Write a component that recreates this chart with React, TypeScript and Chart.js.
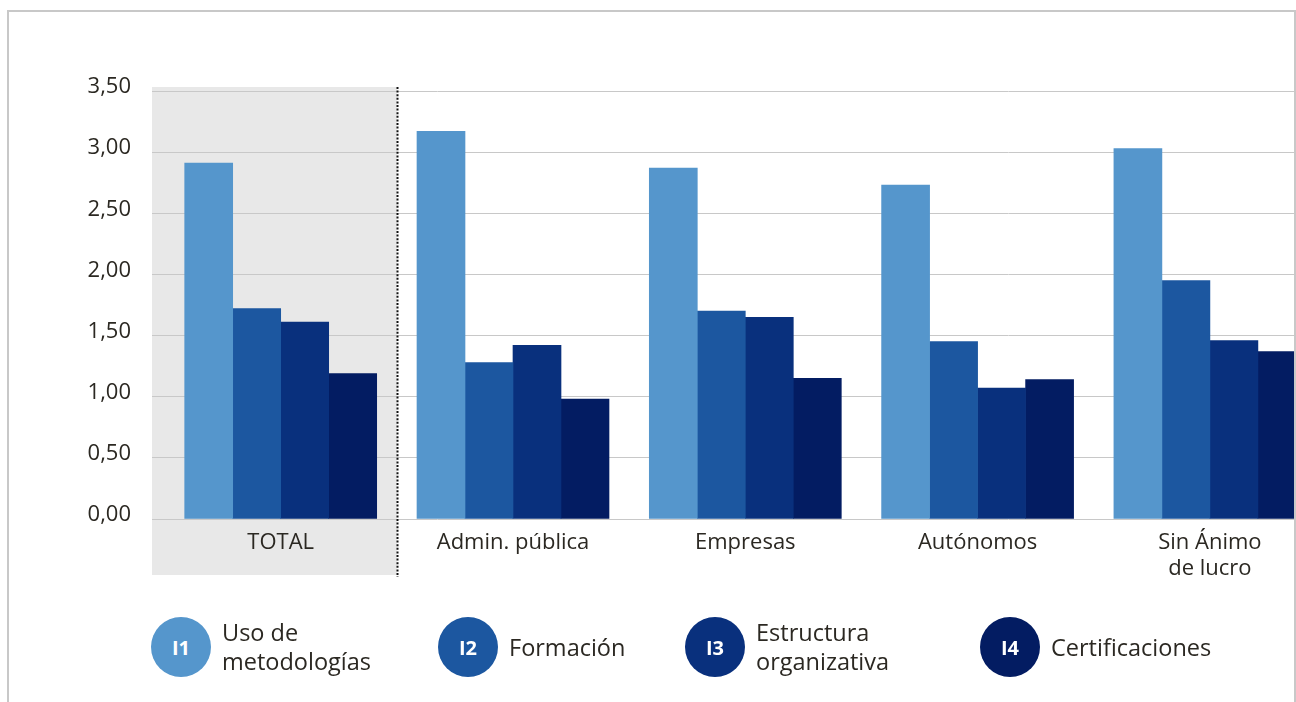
import React, { useEffect, useRef } from "react";
import { Chart, registerables } from "chart.js";

Chart.register(...registerables);

const categories: (string | string[])[] = [
  "TOTAL",
  "Admin. pública",
  "Empresas",
  "Autónomos",
  ["Sin Ánimo", "de lucro"],
];
const seriesCodes = ["I1", "I2", "I3", "I4"];
const seriesNames: string[][] = [
  ["Uso de", "metodologías"],
  ["Formación"],
  ["Estructura", "organizativa"],
  ["Certificaciones"],
];
const seriesColors = ["#5596cc", "#1c57a0", "#09307d", "#031c62"];
const usoMetodologias = [2.91, 3.17, 2.87, 2.73, 3.03];
const formacion = [1.72, 1.28, 1.70, 1.45, 1.95];
const estructura = [1.61, 1.42, 1.65, 1.07, 1.46];
const certificaciones = [1.19, 0.98, 1.15, 1.14, 1.37];
const seriesValues = [usoMetodologias, formacion, estructura, certificaciones];
const yTicks = [0, 0.5, 1, 1.5, 2, 2.5, 3, 3.5];

const FONT = "'Open Sans', 'DejaVu Sans', sans-serif";
const TEXT = "#2b2822";

const totalBackground = {
  id: "totalBackground",
  beforeDraw(chart: any) {
    const { ctx, chartArea, scales } = chart;
    const xSep = scales.x.getPixelForValue(0.5);
    ctx.save();
    ctx.fillStyle = "#e8e8e8";
    ctx.fillRect(chartArea.left, chartArea.top - 4, xSep - chartArea.left, 575 - (chartArea.top - 4));
    ctx.restore();
  },
  afterDraw(chart: any) {
    const { ctx, chartArea, scales } = chart;
    const xSep = Math.round(scales.x.getPixelForValue(0.5)) + 0.5;
    ctx.save();
    ctx.strokeStyle = "#111";
    ctx.lineWidth = 2;
    ctx.setLineDash([2, 1.6]);
    ctx.beginPath();
    ctx.moveTo(xSep, chartArea.top - 4);
    ctx.lineTo(xSep, 577);
    ctx.stroke();
    ctx.restore();
  },
};

function ChartCanvas() {
  const ref = useRef<HTMLCanvasElement | null>(null);
  useEffect(() => {
    if (!ref.current) return;
    const chart = new Chart(ref.current, {
      type: "bar",
      data: {
        datasets: seriesValues.map((vals, s) => ({
          label: seriesNames[s].join(" "),
          data: vals.map((v, i) => ({ x: i, y: v })),
          backgroundColor: seriesColors[s],
          borderWidth: 0,
          barThickness: 48,
        })),
      },
      options: {
        responsive: false,
        animation: false,
        devicePixelRatio: 1,
        layout: { padding: { top: 91, left: 0, right: 2, bottom: 0 } },
        plugins: { legend: { display: false }, tooltip: { enabled: false } },
        scales: {
          x: {
            type: "linear",
            offset: false,
            min: -0.554,
            max: 4.362,
            grid: { display: false, offset: false },
            border: { display: false },
            afterBuildTicks: (scale: any) => {
              scale.ticks = categories.map((_, i) => ({ value: i }));
            },
            afterFit: (scale: any) => {
              scale.height = 183;
            },
            ticks: {
              autoSkip: false,
              maxRotation: 0,
              padding: 3,
              color: TEXT,
              font: { family: FONT, size: 22, lineHeight: 1.18 },
              callback: (v: any) => categories[Math.round(Number(v))] as any,
            },
          },
          y: {
            min: 0,
            max: 3.5,
            afterBuildTicks: (scale: any) => {
              scale.ticks = yTicks.map((v) => ({ value: v }));
            },
            afterFit: (scale: any) => {
              scale.width = 152;
            },
            grid: { color: "#c8c8c8", lineWidth: 1, drawTicks: false },
            border: { display: false },
            ticks: {
              padding: 21,
              labelOffset: -4,
              color: TEXT,
              font: { family: FONT, size: 22 },
              callback: (v: any) => Number(v).toFixed(2).replace(".", ","),
            },
          },
        },
      },
      plugins: [totalBackground],
    });
    return () => chart.destroy();
  }, []);
  return (
    <canvas
      ref={ref}
      width={1296}
      height={702}
      style={{ position: "absolute", left: 0, top: 0, width: 1296, height: 702 }}
    />
  );
}

const legendCenters = [181, 468, 715, 1010];

export default function App() {
  return (
    <div
      style={{
        position: "absolute",
        left: 0,
        top: 0,
        width: 1296,
        height: 702,
        overflow: "hidden",
        background: "#fff",
        fontFamily: FONT,
      }}
    >
      <div
        style={{
          position: "absolute",
          left: 7,
          top: 10,
          width: 1285,
          height: 720,
          border: "2px solid #c8c8c8",
          borderBottom: "none",
        }}
      />
      <ChartCanvas />
      {seriesCodes.map((code, s) => (
        <React.Fragment key={code}>
          <div
            style={{
              position: "absolute",
              left: legendCenters[s] - 30,
              top: 617,
              width: 60,
              height: 60,
              borderRadius: "50%",
              background: seriesColors[s],
              color: "#fff",
              fontWeight: 700,
              fontSize: 20,
              display: "flex",
              alignItems: "center",
              justifyContent: "center",
            }}
          >
            {code}
          </div>
          <div
            style={{
              position: "absolute",
              left: legendCenters[s] + 41,
              top: 612,
              height: 70,
              display: "flex",
              flexDirection: "column",
              justifyContent: "center",
              color: TEXT,
              fontSize: 23.5,
              lineHeight: "29px",
              whiteSpace: "nowrap",
            }}
          >
            {seriesNames[s].map((line) => (
              <div key={line}>{line}</div>
            ))}
          </div>
        </React.Fragment>
      ))}
    </div>
  );
}
